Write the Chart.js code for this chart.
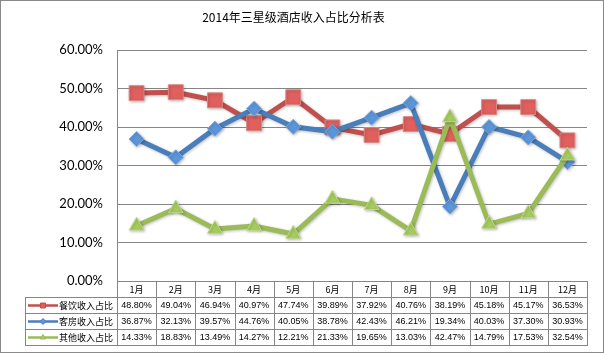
<!DOCTYPE html>
<html>
<head>
<meta charset="utf-8">
<script src="https://cdn.jsdelivr.net/npm/chart.js@4.4.1/dist/chart.umd.min.js"></script>
<style>
  html, body { margin: 0; padding: 0; background: #fff; }
  #wrap { width: 604px; height: 353px; position: relative; }
</style>
</head>
<body>
<div id="wrap"><canvas id="chart"></canvas></div>
<script>
// data
const months = ['1月', '2月', '3月', '4月', '5月', '6月', '7月', '8月', '9月', '10月', '11月', '12月'];
const foodShare  = [48.80, 49.04, 46.94, 40.97, 47.74, 39.89, 37.92, 40.76, 38.19, 45.18, 45.17, 36.53];
const roomShare  = [36.87, 32.13, 39.57, 44.76, 40.05, 38.78, 42.43, 46.21, 19.34, 40.03, 37.30, 30.93];
const otherShare = [14.33, 18.83, 13.49, 14.27, 12.21, 21.33, 19.65, 13.03, 42.47, 14.79, 17.53, 32.54];
const seriesNames = ['餐饮收入占比', '客房收入占比', '其他收入占比'];
const yMin = 0, yMax = 60, yStep = 10;

const GRID = '#868686';

// white background + thin frame round the whole picture
const framePlugin = {
  id: 'frame',
  beforeDraw(chart) {
    const ctx = chart.ctx;
    ctx.save();
    ctx.fillStyle = '#fff';
    ctx.fillRect(0, 0, chart.width, chart.height);
    ctx.strokeStyle = '#8a8a8a';
    ctx.lineWidth = 1;
    ctx.strokeRect(0.5, 0.5, chart.width - 1, chart.height - 1);
    ctx.restore();
  },
  // soft shadow under lines and markers, like the Excel chart
  beforeDatasetDraw(chart) {
    const ctx = chart.ctx;
    ctx.save();
    ctx.shadowColor = 'rgba(0,0,0,0.25)';
    ctx.shadowBlur = 3;
    ctx.shadowOffsetX = 1;
    ctx.shadowOffsetY = 1;
  },
  afterDatasetDraw(chart) {
    chart.ctx.restore();
  }
};

function drawKey(ctx, ds, x0, x1, y) {
  ctx.save();
  ctx.strokeStyle = ds.borderColor;
  ctx.lineWidth = 2.5;
  ctx.beginPath();
  ctx.moveTo(x0, y);
  ctx.lineTo(x1, y);
  ctx.stroke();
  ctx.fillStyle = ds.pointBackgroundColor;
  ctx.strokeStyle = ds.borderColor;
  ctx.lineWidth = 1;
  Chart.helpers.drawPoint(ctx, {
    pointStyle: ds.pointStyle,
    rotation: 0,
    radius: ds.pointStyle === 'rect' ? 3.5 : 3,
    borderWidth: 1
  }, (x0 + x1) / 2, y);
  ctx.restore();
}

// Excel style data table under the plot, columns follow the x scale
const tablePlugin = {
  id: 'dataTable',
  afterDraw(chart) {
    const { ctx, chartArea } = chart;
    const x = chart.scales.x;
    const n = months.length;
    const colW = (chartArea.right - chartArea.left) / n;
    const top = Math.round(chartArea.bottom);
    const headH = 16, rowH = 16;
    const bodyTop = top + headH;
    const bottom = bodyTop + rowH * seriesNames.length;
    const left = 25;
    const right = Math.round(chartArea.right);

    ctx.save();
    ctx.strokeStyle = GRID;
    ctx.lineWidth = 1;
    ctx.beginPath();
    // column separators
    for (let i = 0; i <= n; i++) {
      const px = Math.round(chartArea.left + i * colW) + 0.5;
      ctx.moveTo(px, top);
      ctx.lineTo(px, bottom);
    }
    // label column left edge
    ctx.moveTo(left + 0.5, bodyTop);
    ctx.lineTo(left + 0.5, bottom);
    // row lines
    for (let r = 0; r <= seriesNames.length; r++) {
      const py = bodyTop + r * rowH + 0.5;
      ctx.moveTo(left, py);
      ctx.lineTo(right + 1, py);
    }
    ctx.stroke();

    ctx.fillStyle = '#000';
    ctx.textBaseline = 'middle';
    ctx.textAlign = 'center';
    ctx.font = '9px "Noto Sans CJK SC"';
    months.forEach((m, i) => {
      ctx.fillText(m, x.getPixelForValue(i), top + headH / 2 + 1);
    });

    chart.data.datasets.forEach((ds, r) => {
      const cy = bodyTop + r * rowH + rowH / 2 + 0.5;
      drawKey(ctx, ds, left + 3, left + 33, cy);
      ctx.textAlign = 'left';
      ctx.fillStyle = '#000';
      ctx.font = '9px "Noto Sans CJK SC"';
      ctx.fillText(seriesNames[r], left + 34, cy + 0.5);
      ctx.textAlign = 'center';
      ctx.font = '9px "Liberation Sans"';
      ds.data.forEach((v, i) => {
        ctx.fillText(v.toFixed(2) + '%', x.getPixelForValue(i), cy + 0.5);
      });
    });
    ctx.restore();
  }
};

function series(label, data, line, fill, edge, style, radius, order) {
  return {
    label: label,
    data: data,
    borderColor: line,
    backgroundColor: fill,
    borderWidth: 5,
    pointStyle: style,
    pointRadius: radius,
    pointHoverRadius: radius,
    pointBackgroundColor: fill,
    pointBorderColor: edge,
    pointBorderWidth: 1,
    tension: 0,
    order: order
  };
}

new Chart(document.getElementById('chart').getContext('2d'), {
  type: 'line',
  data: {
    labels: months,
    datasets: [
      series(seriesNames[0], foodShare,  '#C0504D', '#E0605E', '#D98886', 'rect',     10.5, 3),
      series(seriesNames[1], roomShare,  '#4A7EBB', '#5B95DA', '#7FA9DD', 'rectRot',  7.5,  2),
      series(seriesNames[2], otherShare, '#9BBB59', '#A6CC5E', '#C2DA8E', 'triangle', 8.5,  1)
    ]
  },
  options: {
    responsive: true,
    maintainAspectRatio: false,
    animation: false,
    layout: { padding: { left: 0, right: 17, top: 0, bottom: 72 } },
    plugins: {
      legend: { display: false },
      tooltip: { enabled: false },
      title: {
        display: true,
        text: '2014年三星级酒店收入占比分析表',
        color: '#000',
        font: { family: '"Noto Sans CJK SC"', size: 12, weight: 'normal', lineHeight: 1.2 },
        padding: { top: 10, bottom: 25.6 }
      }
    },
    scales: {
      x: {
        type: 'category',
        offset: true,
        display: false
      },
      y: {
        min: yMin,
        max: yMax,
        afterFit(scale) { scale.width = 117; },
        ticks: {
          stepSize: yStep,
          padding: 14,
          color: '#000',
          font: { family: 'Lato', size: 13 },
          callback: v => v.toFixed(2) + '%'
        },
        grid: { color: GRID, lineWidth: 1, drawTicks: false },
        border: { color: GRID, width: 1 }
      }
    }
  },
  plugins: [framePlugin, tablePlugin]
});
</script>
</body>
</html>
